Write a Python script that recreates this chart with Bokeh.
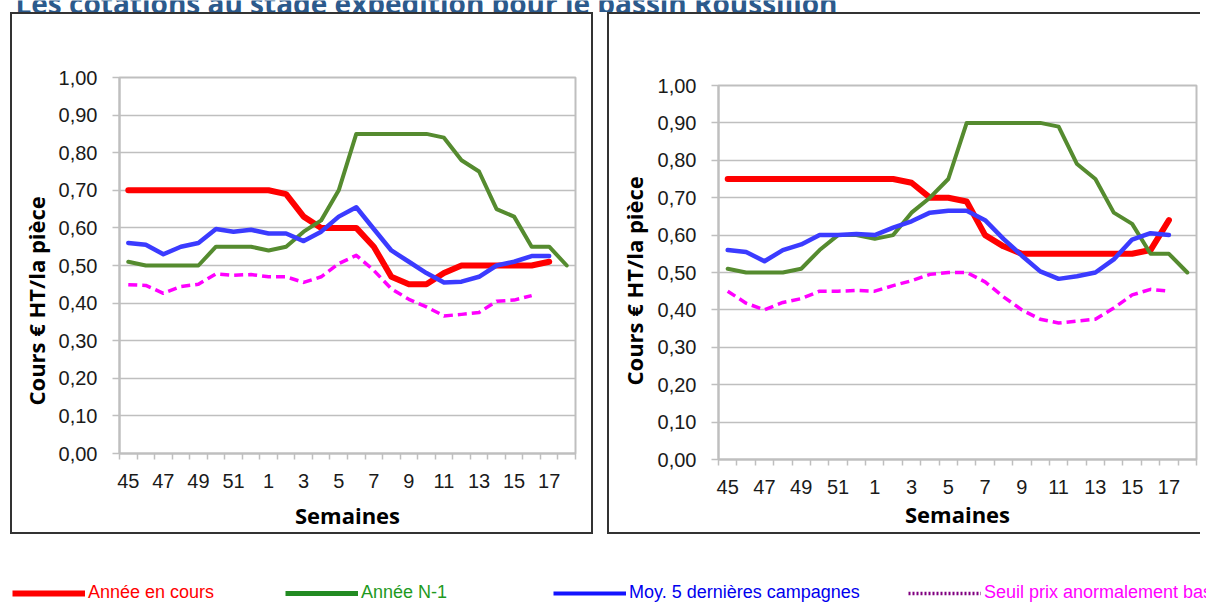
import math
from bokeh.plotting import figure
from bokeh.layouts import row, column
from bokeh.models import (Range1d, FixedTicker, CustomJSTickFormatter, Label, Title,
                          Legend, LegendItem, Spacer)
from bokeh.embed import file_html
from bokeh.resources import INLINE

nan = float("nan")

# ---------------- data ----------------
weeks = [45, 46, 47, 48, 49, 50, 51, 52, 1, 2, 3, 4, 5, 6, 7, 8, 9, 10,
         11, 12, 13, 14, 15, 16, 17, 18]

title_text = "Les cotations au stade expédition pour le bassin Roussillon"
y_title = "Cours € HT/la pièce"
x_title = "Semaines"
series_names = ["Année en cours", "Année N-1", "Moy. 5 dernières campagnes",
                "Seuil prix anormalement bas"]

# left chart
red_left = [0.70, 0.70, 0.70, 0.70, 0.70, 0.70, 0.70, 0.70, 0.70, 0.69, 0.63, 0.60, 0.60,
            0.60, 0.55, 0.47, 0.45, 0.45, 0.48, 0.50, 0.50, 0.50, 0.50, 0.50, 0.51, nan]
green_left = [0.51, 0.50, 0.50, 0.50, 0.50, 0.55, 0.55, 0.55, 0.54, 0.55, 0.59, 0.62, 0.70,
              0.85, 0.85, 0.85, 0.85, 0.85, 0.84, 0.78, 0.75, 0.65, 0.63, 0.55, 0.55, 0.50]
blue_left = [0.56, 0.555, 0.53, 0.55, 0.56, 0.597, 0.59, 0.595, 0.585, 0.585, 0.565, 0.59,
             0.63, 0.655, 0.597, 0.54, 0.51, 0.48, 0.455, 0.457, 0.47, 0.50, 0.51, 0.525,
             0.525, nan]
mag_left = [0.449, 0.447, 0.426, 0.444, 0.45, 0.478, 0.474, 0.476, 0.47, 0.47, 0.455, 0.47,
            0.505, 0.527, 0.487, 0.438, 0.41, 0.39, 0.366, 0.37, 0.375, 0.405, 0.408, 0.42,
            nan, nan]

# right chart
red_right = [0.75, 0.75, 0.75, 0.75, 0.75, 0.75, 0.75, 0.75, 0.75, 0.75, 0.74, 0.70, 0.70,
             0.69, 0.60, 0.57, 0.55, 0.55, 0.55, 0.55, 0.55, 0.55, 0.55, 0.56, 0.64, nan]
green_right = [0.51, 0.50, 0.50, 0.50, 0.51, 0.56, 0.60, 0.60, 0.59, 0.60, 0.66, 0.70, 0.75,
               0.90, 0.90, 0.90, 0.90, 0.90, 0.89, 0.79, 0.75, 0.66, 0.63, 0.55, 0.55, 0.50]
blue_right = [0.56, 0.555, 0.53, 0.56, 0.575, 0.60, 0.60, 0.603, 0.60, 0.62, 0.637, 0.66,
              0.665, 0.665, 0.64, 0.59, 0.545, 0.503, 0.483, 0.49, 0.50, 0.535, 0.588, 0.605,
              0.60, nan]
mag_right = [0.45, 0.418, 0.40, 0.42, 0.43, 0.45, 0.45, 0.452, 0.45, 0.465, 0.478, 0.495,
             0.50, 0.50, 0.475, 0.435, 0.40, 0.375, 0.365, 0.37, 0.375, 0.405, 0.44, 0.455,
             0.45, nan]

y_ticks = [k / 10 for k in range(11)]

# ---------------- styles ----------------
GRID = "#BFBFBF"
RED = "#FF0000"
GREEN = "#558B2F"
BLUE = "#3B3BFF"
MAGENTA = "#FF00FF"
BORDER = "#333333"
TICK_FONT = "Liberation Sans"
BOLD_FONT = "Open Sans"

idx = list(range(len(weeks)))


def make_panel(width, height, borders, red, green, blue, mag, ytitle_offset, ytitle_standoff,
               xtitle_standoff, css):
    bl, br, bt, bb = borders
    p = figure(width=width, height=height, output_backend="svg", toolbar_location=None,
               x_range=Range1d(-0.5, len(weeks) - 0.5), y_range=Range1d(0, 1.0),
               min_border_left=bl, min_border_right=br, min_border_top=bt,
               min_border_bottom=bb, styles=css)
    p.background_fill_color = "white"
    p.border_fill_color = "white"
    p.outline_line_color = GRID
    p.outline_line_width = 2

    xa = p.xaxis[0]
    xa.ticker = FixedTicker(ticks=idx[::2], minor_ticks=[i - 0.5 for i in range(len(weeks) + 1)])
    xa.major_label_overrides = {i: str(weeks[i]) for i in idx[::2]}
    xa.major_tick_out = 0
    xa.major_tick_in = 0
    xa.minor_tick_out = 6
    xa.minor_tick_in = 0
    xa.minor_tick_line_color = GRID
    xa.minor_tick_line_width = 1.5
    xa.axis_line_color = GRID
    xa.axis_line_width = 2
    xa.major_label_text_font = TICK_FONT
    xa.major_label_text_font_size = "20px"
    xa.major_label_text_color = "#1a1a1a"
    xa.major_label_standoff = 14
    xa.axis_label = x_title
    xa.axis_label_text_font = BOLD_FONT
    xa.axis_label_text_font_style = "bold"
    xa.axis_label_text_font_size = "22px"
    xa.axis_label_text_color = "#000000"
    xa.axis_label_standoff = xtitle_standoff

    ya = p.yaxis[0]
    ya.ticker = FixedTicker(ticks=y_ticks)
    ya.formatter = CustomJSTickFormatter(code="return tick.toFixed(2).replace('.', ',');")
    ya.major_tick_out = 7
    ya.major_tick_in = 0
    ya.major_tick_line_color = GRID
    ya.major_tick_line_width = 1.5
    ya.minor_tick_out = 0
    ya.minor_tick_in = 0
    ya.axis_line_color = GRID
    ya.axis_line_width = 2
    ya.major_label_text_font = TICK_FONT
    ya.major_label_text_font_size = "20px"
    ya.major_label_text_color = "#1a1a1a"
    ya.major_label_standoff = 15

    p.xgrid.visible = False
    p.ygrid.ticker = FixedTicker(ticks=y_ticks)
    p.ygrid.grid_line_color = GRID
    p.ygrid.grid_line_width = 1.5

    p.line(idx, red, line_color=RED, line_width=6, line_join="round", line_cap="round")
    p.line(idx, green, line_color=GREEN, line_width=4, line_join="round", line_cap="round")
    p.line(idx, blue, line_color=BLUE, line_width=4.5, line_join="round", line_cap="round")
    p.line(idx, mag, line_color=MAGENTA, line_width=3.5, line_dash="9 5", line_join="round")

    p.add_layout(Title(text=y_title, align="left", offset=ytitle_offset,
                       standoff=ytitle_standoff, text_font=BOLD_FONT, text_font_style="bold",
                       text_font_size="22px", text_color="#000000"), "left")
    return p


p1 = make_panel(583, 522, (107, 20, 63, 83), red_left, green_left, blue_left, mag_left,
                48, 10, 9, {"border": "2px solid " + BORDER})
p2 = make_panel(593, 522, (109, 6, 71, 77), red_right, green_right, blue_right, mag_right,
                74, 12, 2, {"border": "2px solid " + BORDER, "border-right": "none"})

# ---------------- title strip (top cut off as in the reference) ----------------
tf = figure(width=1206, height=12, output_backend="svg", toolbar_location=None,
            x_range=Range1d(0, 1206), y_range=Range1d(12, 0), min_border=0)
tf.axis.visible = False
tf.grid.visible = False
tf.outline_line_color = None
tf.add_layout(Label(x=15, y=2, text=title_text, text_font=BOLD_FONT, text_font_style="bold",
                    text_font_size="28px", text_color="#2C5A8C", text_align="left",
                    text_baseline="alphabetic"))

# ---------------- legend strip ----------------
lf = figure(width=1206, height=65, output_backend="svg", toolbar_location=None,
            x_range=Range1d(0, 1), y_range=Range1d(0, 1), min_border=0)
lf.axis.visible = False
lf.grid.visible = False
lf.outline_line_color = None

leg_styles = [
    (RED, 6, "solid", RED, 12),
    ("#228B22", 5, "solid", "#1E9A1E", 285),
    ("#1414FF", 4, "solid", "#0000EE", 553),
    ("#800080", 3.5, "2 2", "#FF00FF", 908),
]
for name, (lc, lw, dash, tc, xpos) in zip(series_names, leg_styles):
    r = lf.line(x=[5, 6], y=[5, 5], line_color=lc, line_width=lw, line_dash=dash)
    lg = Legend(items=[LegendItem(label=name, renderers=[r])], location=(xpos, 0),
                orientation="horizontal", glyph_width=73, glyph_height=16, label_height=16,
                label_standoff=3, padding=0, margin=0, spacing=0, border_line_color=None,
                background_fill_alpha=0, label_text_color=tc,
                label_text_font="Liberation Sans", label_text_font_size="18px")
    lf.add_layout(lg, "center")

mid = row(Spacer(width=10, height=526), column(p1), Spacer(width=14, height=526), column(p2))
layout = column(tf, mid, lf)

open("out.html", "w").write(file_html(layout, INLINE))
